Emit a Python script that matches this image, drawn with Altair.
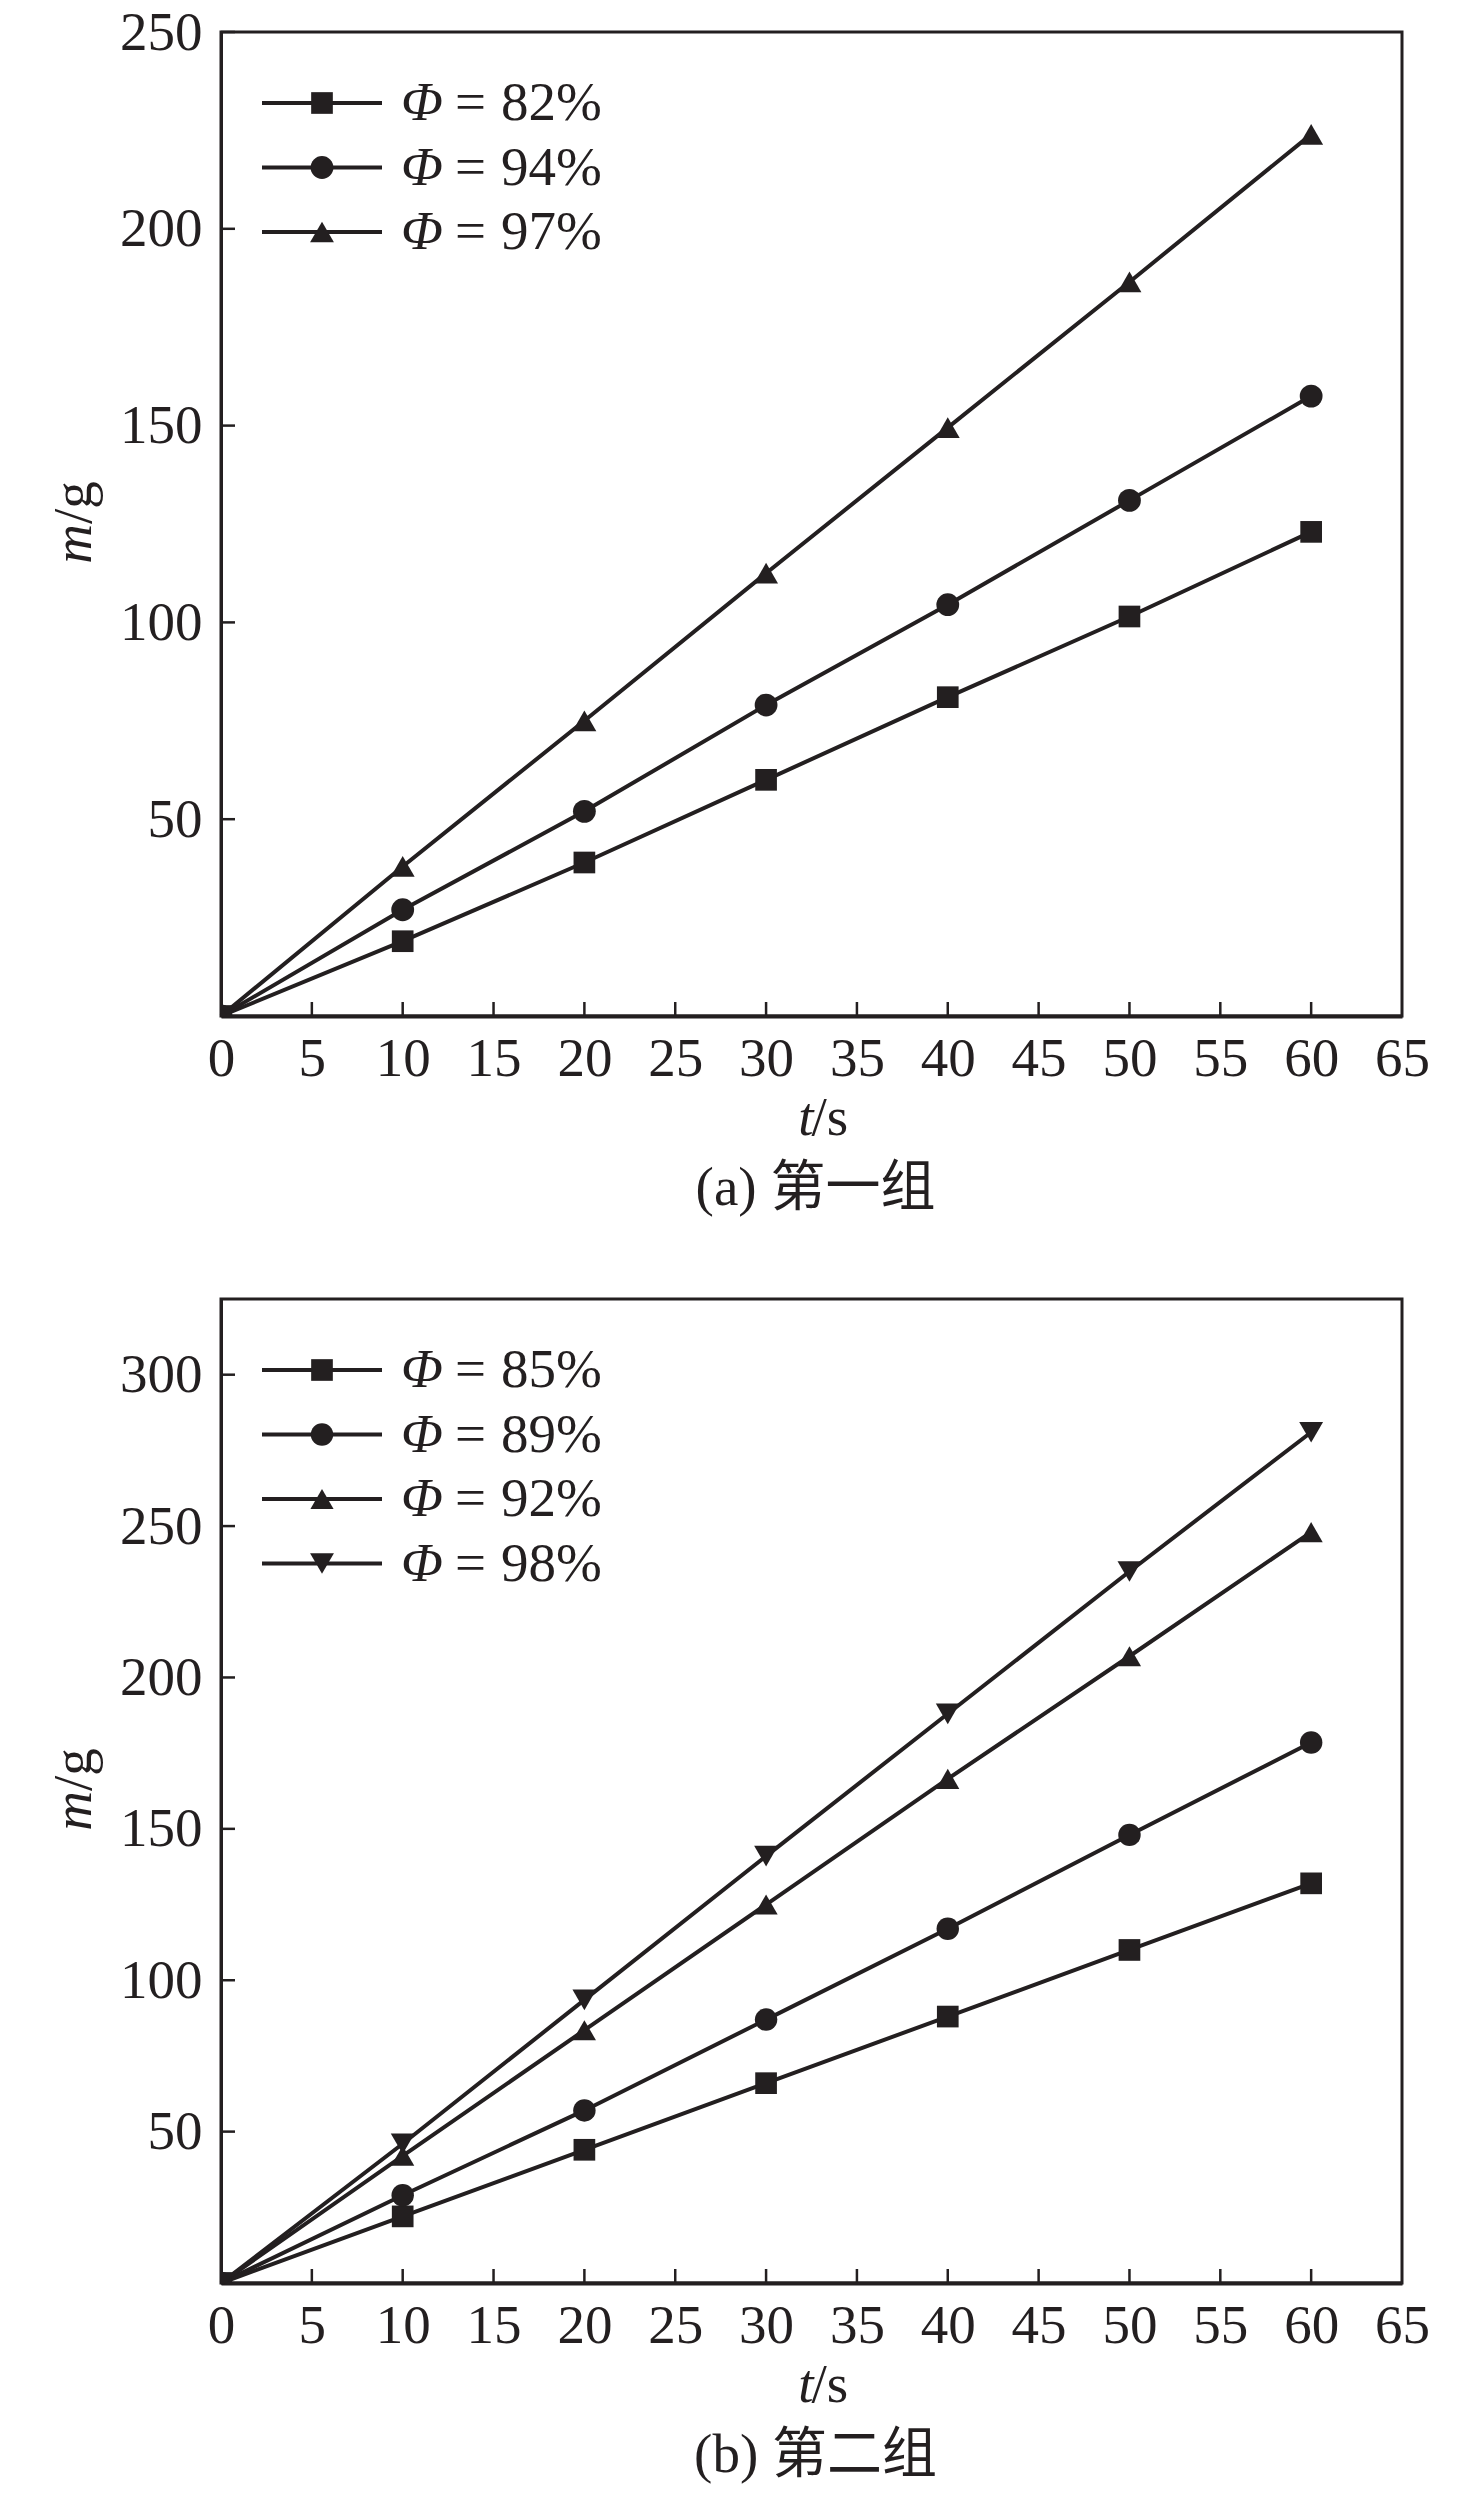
import altair as alt
import pandas as pd

# ---------------- data ----------------
T = [0, 10, 20, 30, 40, 50, 60]
X_TICKS = [0, 5, 10, 15, 20, 25, 30, 35, 40, 45, 50, 55, 60, 65]

A_LABELS = ["82%", "94%", "97%"]
A_82 = [0, 19, 39, 60, 81, 101.5, 123]
A_94 = [0, 27, 52, 79, 104.5, 131, 157.5]
A_97 = [0, 38, 75, 112.5, 149.5, 186.5, 224]
A_YTICKS = [50, 100, 150, 200, 250]
A_CAPTION = "(a) 第一组"

B_LABELS = ["85%", "89%", "92%", "98%"]
B_85 = [0, 22, 44, 66, 88, 110, 132]
B_89 = [0, 29, 57, 87, 117, 148, 178.5]
B_92 = [0, 42, 83.5, 125, 166.5, 207, 248]
B_98 = [0, 46, 93.5, 141, 188, 235, 281]
B_YTICKS = [50, 100, 150, 200, 250, 300]
B_CAPTION = "(b) 第二组"

X_TITLE = ["t", "/s"]
Y_TITLE = ["m", "/g"]
PHI = "Φ"
EQ = "="

# ---------------- style ----------------
INK = "#231f20"
FONT = "Liberation Serif"
CJK_FONT = "Liberation Serif, Noto Sans CJK SC"
FS = 55
W, H = 1181, 984
SHAPE_SIZE = {"square": 470, "circle": 570, "triangle-up": 850, "triangle-down": 850}


def panel(labels, series, shapes, ymax, yticks, caption):
    rows = []
    for lab, vals in zip(labels, series):
        for t, v in zip(T, vals):
            rows.append({"t": t, "m": v, "series": lab})
    df = pd.DataFrame(rows)

    xs = alt.Scale(domain=[0, 65], nice=False)
    ys = alt.Scale(domain=[0, ymax], nice=False)
    shape_scale = alt.Scale(domain=labels, range=shapes)
    size_scale = alt.Scale(domain=labels, range=[SHAPE_SIZE[s] for s in shapes])
    xaxis = alt.Axis(values=X_TICKS, ticks=False, grid=False, title=None,
                     labelPadding=16, labelFlush=False, labelOverlap=False,
                     domain=True, domainWidth=4, domainColor=INK)
    yaxis = alt.Axis(values=yticks, ticks=False, grid=False, title=None,
                     labelPadding=19, labelFlush=False, labelOverlap=False,
                     domain=True, domainWidth=3, domainColor=INK)
    X = alt.X("t:Q", scale=xs, axis=xaxis)
    Y = alt.Y("m:Q", scale=ys, axis=yaxis)

    base = alt.Chart(df)
    lines = base.mark_line(color=INK, strokeWidth=4).encode(x=X, y=Y, detail="series:N")
    points = base.mark_point(filled=True, color=INK, opacity=1, strokeWidth=0, clip=True).encode(
        x=X, y=Y,
        shape=alt.Shape("series:N", scale=shape_scale, legend=None),
        size=alt.Size("series:N", scale=size_scale, legend=None),
    )

    # inward tick marks
    xt = pd.DataFrame({"t": X_TICKS[1:-1]})
    xticks = alt.Chart(xt).mark_rule(color=INK, strokeWidth=2.5).encode(
        x=alt.X("t:Q", scale=xs, axis=xaxis), y=alt.value(H), y2=alt.value(H - 14))
    yt = pd.DataFrame({"m": yticks})
    yticks_l = alt.Chart(yt).mark_rule(color=INK, strokeWidth=2.5).encode(
        y=alt.Y("m:Q", scale=ys, axis=yaxis), x=alt.value(0), x2=alt.value(14))

    layers = [lines, points, xticks, yticks_l]

    # legend
    for i, lab in enumerate(labels):
        ly = 71 + 64.5 * i
        ld = pd.DataFrame({"series": [lab], "phi": [PHI], "eq": [EQ], "pct": [lab]})
        lc = alt.Chart(ld)
        layers.append(lc.mark_rule(color=INK, strokeWidth=4).encode(
            x=alt.value(41), x2=alt.value(161), y=alt.value(ly)))
        layers.append(lc.mark_point(filled=True, color=INK, opacity=1, strokeWidth=0).encode(
            x=alt.value(101), y=alt.value(ly),
            shape=alt.Shape("series:N", scale=shape_scale, legend=None),
            size=alt.Size("series:N", scale=size_scale, legend=None)))
        layers.append(lc.mark_text(font=FONT, fontSize=FS, fontStyle="italic", color=INK,
                                   align="left", baseline="middle").encode(
            x=alt.value(180), y=alt.value(ly), text="phi:N"))
        layers.append(lc.mark_text(font=FONT, fontSize=FS, color=INK,
                                   align="left", baseline="middle").encode(
            x=alt.value(234), y=alt.value(ly), text="eq:N"))
        layers.append(lc.mark_text(font=FONT, fontSize=FS, color=INK,
                                   align="left", baseline="middle").encode(
            x=alt.value(280), y=alt.value(ly), text="pct:N"))

    # axis titles (italic variable / upright unit) and caption
    td = pd.DataFrame({"a": [X_TITLE[0]], "b": [X_TITLE[1]], "c": [Y_TITLE[0]],
                       "d": [Y_TITLE[1]], "cap": [caption]})
    tc = alt.Chart(td)
    layers.append(tc.mark_text(font=FONT, fontSize=FS, fontStyle="italic", color=INK,
                               align="right", baseline="middle").encode(
        x=alt.value(W / 2 + 2), y=alt.value(H + 102), text="a:N"))
    layers.append(tc.mark_text(font=FONT, fontSize=FS, color=INK,
                               align="left", baseline="middle").encode(
        x=alt.value(W / 2), y=alt.value(H + 102), text="b:N"))
    layers.append(tc.mark_text(font=FONT, fontSize=FS, fontStyle="italic", color=INK,
                               align="right", baseline="middle", angle=270).encode(
        x=alt.value(-147), y=alt.value(H / 2), text="c:N"))
    layers.append(tc.mark_text(font=FONT, fontSize=FS, color=INK,
                               align="left", baseline="middle", angle=270).encode(
        x=alt.value(-147), y=alt.value(H / 2), text="d:N"))
    layers.append(tc.mark_text(font=CJK_FONT, fontSize=FS, color=INK,
                               align="center", baseline="middle").encode(
        x=alt.value(W / 2 + 4), y=alt.value(H + 172), text="cap:N"))

    return alt.layer(*layers).properties(width=W, height=H)


top = panel(A_LABELS, [A_82, A_94, A_97], ["square", "circle", "triangle-up"],
            250, A_YTICKS, A_CAPTION)
bottom = panel(B_LABELS, [B_85, B_89, B_92, B_98],
               ["square", "circle", "triangle-up", "triangle-down"],
               325, B_YTICKS, B_CAPTION)

chart = (
    alt.vconcat(top, bottom, spacing=79)
    .resolve_scale(x="independent", y="independent", shape="independent", size="independent")
    .properties(padding={"left": 37, "top": -5, "right": 5, "bottom": 5})
    .configure_view(stroke=INK, strokeWidth=3)
    .configure_axis(labelFont=FONT, labelFontSize=FS, labelColor=INK)
)

chart.save("out.html", embed_options={"renderer": "svg", "actions": False})
